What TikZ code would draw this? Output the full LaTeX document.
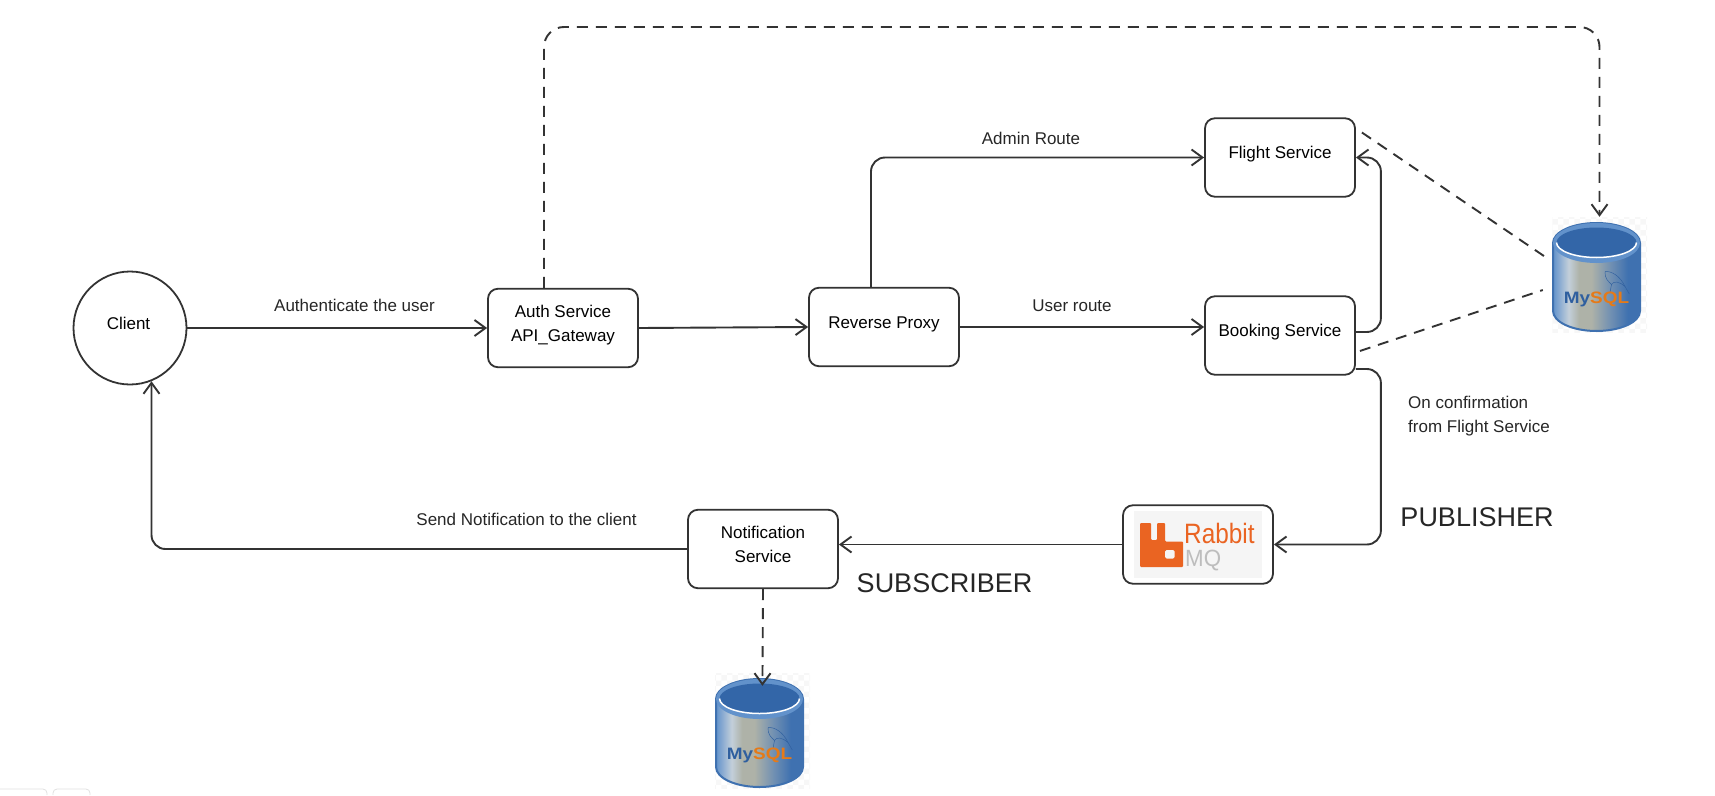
\documentclass[tikz,border=0pt]{standalone}
\usepackage{fontspec}
\setmainfont{Liberation Sans}
\usetikzlibrary{arrows.meta, patterns}

\definecolor{inkline}{HTML}{333333}
\definecolor{rabbitorange}{HTML}{EA6422}
\definecolor{rabbitgray}{HTML}{BDBDBD}
\definecolor{rabbitback}{HTML}{F5F5F5}
\definecolor{dbrim}{HTML}{3F71B0}
\definecolor{dbtop}{HTML}{3366A8}
\definecolor{dbedge}{HTML}{6292CB}
\definecolor{dblight}{HTML}{C3CFDA}
\definecolor{dbtan}{HTML}{AEB2A8}
\definecolor{dbmid}{HTML}{7190B2}
\definecolor{dbdeep}{HTML}{2F5F9F}
\definecolor{sqlorange}{HTML}{E57A18}

\pgfdeclarehorizontalshading{dbbody}{100bp}{color(0bp)=(dbedge); color(25bp)=(dbedge); color(34bp)=(dblight); color(40bp)=(dbtan); color(47bp)=(dbtan); color(58bp)=(dbmid); color(68bp)=(dbrim); color(75bp)=(dbrim); color(100bp)=(dbrim)}

\newcommand{\liftup}[1]{\raisebox{-1pt}[0pt][0pt]{\begin{tabular}{@{}c@{}}#1\end{tabular}}}

\tikzset{
	service/.style = {draw = inkline, line width = 1.8pt, rounded corners = 10pt, minimum width = 150pt, minimum height = 78.5pt, inner sep = 0pt},
	flow/.style = {->, draw = inkline, line width = 1.9pt, rounded corners = 14pt},
	storage/.style = {flow, dash pattern = on 11pt off 8pt},
	dbslot/.style = {minimum width = 95pt, minimum height = 115pt, inner sep = 0pt},
	caption/.style = {inner sep = 0pt, text = black!85},
	bigcaption/.style = {caption, font = \fontsize{27}{30}\selectfont},
	mysql/.pic = {
		\fill [pattern = checkerboard, pattern color = black!3] (-47.5, -57.5) rectangle (47.5, 57.5);
		\shade [shading = dbbody, draw = dbrim, line width = 2pt] (-46.5, -31.5) -- (-46.5, 36.5) arc [start angle = 180, end angle = 360, x radius = 43.5pt, y radius = 20pt] -- (40.5, -31.5) arc [start angle = 0, end angle = 180, x radius = 43.5pt, y radius = 20pt] -- cycle;
		\fill [dbedge] (-3, -31.5) ellipse [x radius = 43.5pt, y radius = 20pt];
		\fill [dbtop] (-3, -32) ellipse [x radius = 40pt, y radius = 15pt];
		\draw [white, line width = 1.5pt] (-43, -32) arc [start angle = 180, end angle = 360, x radius = 40pt, y radius = 15pt];
		\draw [dbdeep, line width = 0.45pt] (5.5, -2.8) .. controls (12, -4) and (21, 2) .. (25.5, 12) -- (29.8, 19.5);
		\draw [dbdeep, line width = 0.45pt] (5.5, -2.8) .. controls (5, 4) and (9, 7) .. (12, 10) -- (10.5, 18);
		\draw [dbdeep, line width = 0.45pt] (25.5, 12) .. controls (20, 7) and (14, 6) .. (12, 10);
		\node [inner sep = 0pt, xscale = 1.15, transform shape, font = \fontsize{16.5}{18}\selectfont\bfseries] (-logo) at (-3, 24.5) {\textcolor{dbdeep}{My}\textcolor{sqlorange}{SQL}};
	},
}

\begin{document}
\begin{tikzpicture}[x = 1pt, y = -1pt, > = {Straight Barb[length = 11pt, width = 16pt, line width = 1.9pt]}, every node/.style = {font = \fontsize{17}{24}\selectfont}]

	\useasboundingbox (0, 0) rectangle (1715, 795);

	% Nodes

	\node [draw = inkline, line width = 1.8pt, circle, minimum size = 113pt, inner sep = 0pt] (client) at (130, 328) {\liftup{Client\hspace*{3pt}}};
	\node [service] (auth) at (563, 328) {\liftup{Auth Service\\API\_Gateway}};
	\node [service] (proxy) at (884, 327) {\liftup{Reverse Proxy}};
	\node [service] (flight) at (1280, 157.5) {\liftup{Flight Service}};
	\node [service] (booking) at (1280, 335.5) {\liftup{Booking Service}};
	\node [service] (notification) at (763, 549) {\liftup{Notification\\Service}};
	\node [service] (rabbit) at (1198, 544.5) {};

	\node [dbslot] (flightdb) at (1599.5, 274.5) {};
	\node [dbslot] (notifydb) at (762.5, 730.5) {};

	% MySQL cans

	\pic (flightcan) at (flightdb) {mysql};
	\pic (notifycan) at (notifydb) {mysql};

	% RabbitMQ logo

	\fill [rabbitback] (1134, 511) rectangle (1262, 578);
	\fill [rabbitorange, rounded corners = 1pt] (1140, 523) -- (1151, 523) -- (1151, 540) -- (1157, 540) -- (1157, 523) -- (1165, 523) -- (1165, 541.5) -- (1183, 541.5) -- (1183, 567) -- (1140, 567) -- cycle;
	\fill [rabbitback, rounded corners = 1.5pt] (1165, 550) rectangle (1174.5, 558.5);
	\node [inner sep = 0pt, anchor = west, xscale = 0.87, transform shape, text = rabbitorange, font = \fontsize{28}{28}\selectfont] (rabbitname) at (1184, 533) {Rabbit};
	\node [inner sep = 0pt, anchor = west, xscale = 0.95, transform shape, text = rabbitgray, font = \fontsize{23.5}{24}\selectfont] (rabbitmq) at (1185, 561) {MQ};

	% Connectors

	\draw [flow] (client.east) -- (auth.west);
	\draw [flow] (auth.east) -- (proxy.west);
	\draw [flow] (proxy.east) -- (proxy.east -| booking.west);
	\draw [flow] ([xshift = -13pt] proxy.north) |- (flight.west);
	\draw [flow] ([yshift = 3.5pt] booking.east) -- ++(25, 0) |- (flight.east);
	\draw [flow] ([yshift = -33.5pt] booking.east) -- ++(25, 0) |- (rabbit.east);
	\draw [flow] (rabbit.west) -- (rabbit.west -| notification.east);
	\draw [flow] (notification.west) -| (client.-68);

	% Storage links

	\coordinate (topline) at (0, 27);
	\draw [storage, rounded corners = 20pt] ([xshift = -19pt] auth.north) |- (flightdb.north |- topline) -- (flightdb.north);
	\draw [storage, shorten > = -13pt] (notification.south) -- (notifydb.north);
	\draw [inkline, line width = 1.9pt, dash pattern = on 11pt off 8pt] ([shift = {(6pt, 25pt)}] flight.east) -- ([shift = {(-2pt, 14.5pt)}] flightdb.west);
	\draw [inkline, line width = 1.9pt, dash pattern = on 11pt off 8pt] ([shift = {(4pt, -15.5pt)}] booking.east) -- ([shift = {(-9pt, -15.5pt)}] flightdb.west);

	% Labels

	\node [caption] (authlabel) at (354.5, 305.5) {Authenticate the user};
	\node [caption] (adminlabel) at (1031, 138) {Admin Route};
	\node [caption] (userlabel) at (1072, 306) {User route};
	\node [caption] (sendlabel) at (526.5, 519) {Send Notification to the client};
	\node [caption, anchor = west, align = left] (confirmlabel) at (1408, 416) {On confirmation\\from Flight Service};
	\node [bigcaption] (publisher) at (1477, 517) {PUBLISHER};
	\node [bigcaption] (subscriber) at (944.5, 583) {SUBSCRIBER};

	% Tabs at the lower edge

	\draw [black!12, line width = 0.8pt, rounded corners = 4pt] (0, 789) -- (47, 789) -- (47, 795);
	\draw [black!12, line width = 0.8pt, rounded corners = 4pt] (53, 795) -- (53, 789) -- (90, 789) -- (90, 795);

\end{tikzpicture}
\end{document}
